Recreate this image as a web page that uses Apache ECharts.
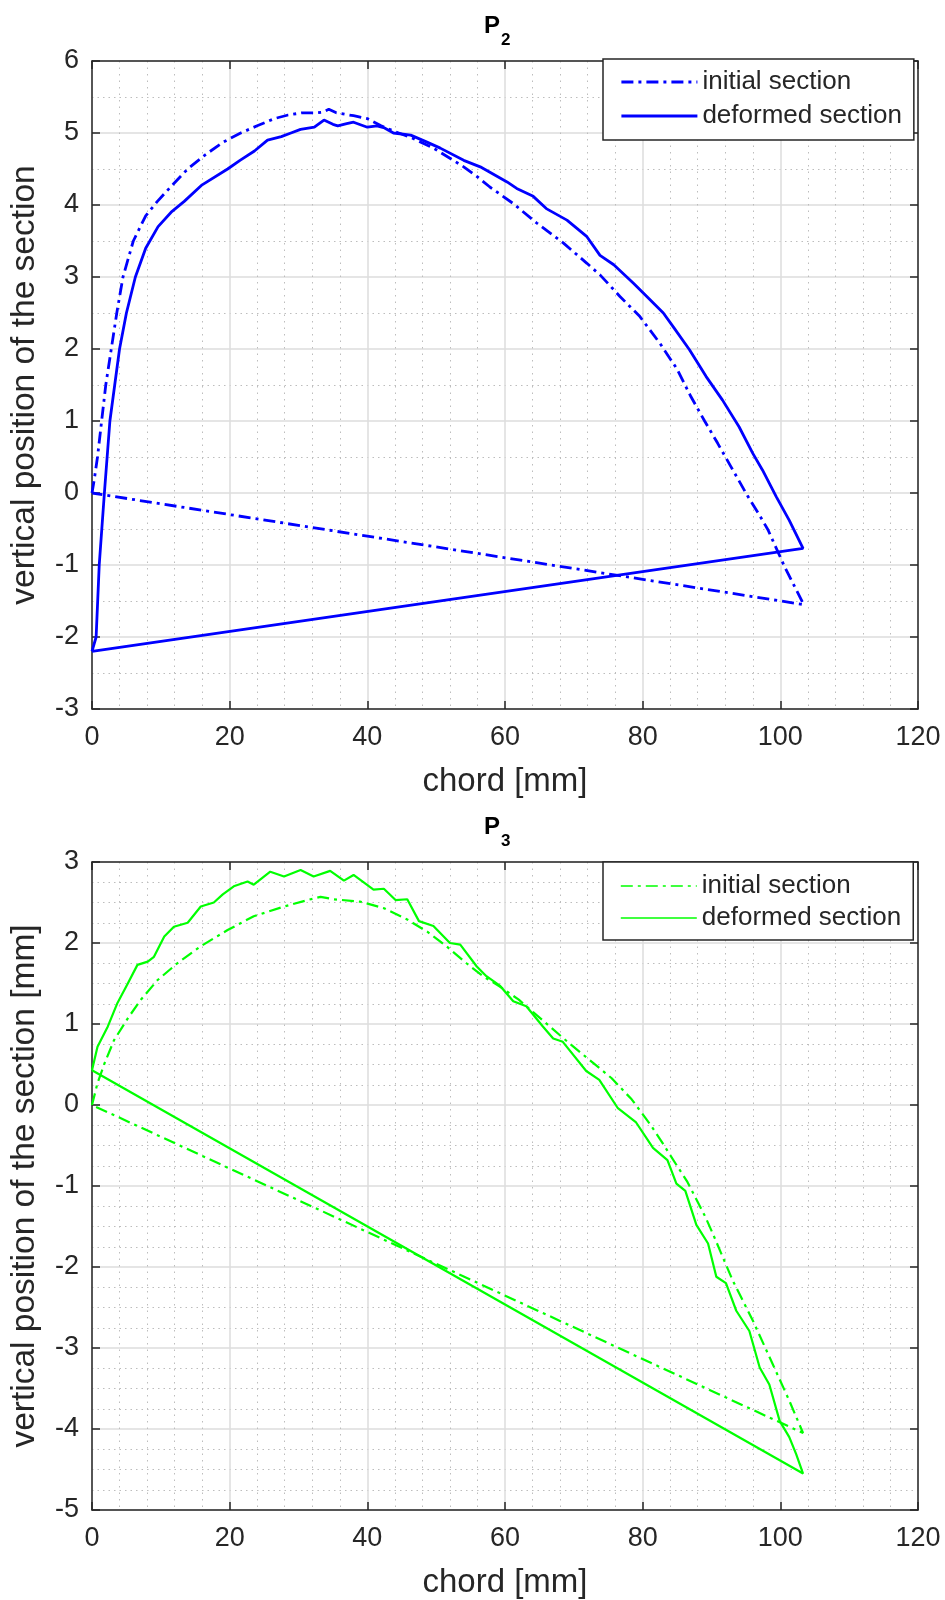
<!DOCTYPE html>
<html>
<head>
<meta charset="utf-8">
<script src="https://cdn.jsdelivr.net/npm/echarts@6/dist/echarts.min.js"></script>
<style>
  html, body { margin: 0; padding: 0; background: #fff; }
  #chart { width: 945px; height: 1600px; }
</style>
</head>
<body>
<div id="chart"></div>
<script>
// ---- section outlines (chord position [mm], vertical position) ----
// Each outline runs over the upper surface from the leading edge to the
// trailing edge and closes with a straight chord line back to the start.

const p2InitialX = [0, 0.35, 0.8, 1.4, 2.0, 2.8, 3.6, 4.5, 6.0, 7.8, 9.5, 11.6, 13.9, 16.5, 19.0, 21.6, 24.0, 26.5, 28.5, 30.5, 32.5, 33.5, 34.4, 35.5, 38.0, 40.0, 42.0, 44.0, 46.5, 49.6, 52.0, 54.0, 56.0, 57.8, 61.2, 64.6, 68.5, 71.9, 73.8, 76.7, 79.6, 82.5, 85.0, 87.0, 89.0, 90.9, 92.8, 95.3, 96.8, 98.2, 100.6, 103.4, 0];
const p2InitialY = [0, 0.2, 0.5, 1.0, 1.5, 2.0, 2.5, 3.0, 3.5, 3.85, 4.05, 4.27, 4.5, 4.7, 4.87, 5.0, 5.1, 5.2, 5.25, 5.28, 5.28, 5.29, 5.33, 5.28, 5.24, 5.2, 5.1, 5.02, 4.93, 4.79, 4.65, 4.53, 4.39, 4.25, 4.02, 3.75, 3.47, 3.19, 3.03, 2.73, 2.45, 2.08, 1.72, 1.34, 1.0, 0.69, 0.37, -0.05, -0.28, -0.51, -1.02, -1.55, 0];

const p2DeformedX = [0, 0.6, 1.05, 1.8, 2.6, 3.3, 4.0, 5.0, 6.3, 7.8, 9.6, 11.5, 13.4, 16.0, 19.7, 21.5, 23.6, 25.5, 27.5, 28.9, 30.3, 32.3, 33.7, 35.0, 35.7, 37.0, 38.0, 40.0, 41.4, 42.5, 43.8, 46.3, 48.5, 50.6, 54.0, 56.4, 60.3, 61.7, 64.1, 66.0, 69.0, 71.9, 73.8, 75.8, 78.7, 80.6, 83.0, 84.5, 86.8, 89.2, 91.6, 94.0, 96.0, 97.4, 99.4, 101.3, 103.3, 0];
const p2DeformedY = [-2.2, -2.0, -1.0, 0.0, 1.0, 1.5, 2.0, 2.5, 3.0, 3.4, 3.7, 3.9, 4.05, 4.28, 4.5, 4.62, 4.75, 4.9, 4.95, 5.0, 5.05, 5.08, 5.18, 5.12, 5.1, 5.13, 5.15, 5.08, 5.1, 5.07, 5.0, 4.97, 4.88, 4.79, 4.62, 4.53, 4.32, 4.23, 4.12, 3.95, 3.79, 3.56, 3.3, 3.17, 2.91, 2.73, 2.5, 2.3, 1.99, 1.62, 1.29, 0.92, 0.55, 0.32, -0.05, -0.38, -0.77, -2.2];

const p3InitialX = [0, 0.8, 1.8, 3.2, 5.2, 7.1, 9.5, 12.4, 15.8, 19.7, 23.5, 27.9, 31.3, 33.2, 35.1, 39.0, 42.4, 45.8, 48.7, 51.5, 54.4, 56.8, 59.3, 62.0, 66.5, 69.5, 72.8, 75.5, 78.4, 81.1, 82.9, 84.0, 86.5, 89.1, 90.2, 93.1, 96.0, 98.9, 101.3, 103.3, 0];
const p3InitialY = [0, 0.27, 0.51, 0.8, 1.07, 1.3, 1.54, 1.75, 1.96, 2.16, 2.33, 2.45, 2.53, 2.57, 2.54, 2.51, 2.43, 2.29, 2.14, 1.96, 1.75, 1.59, 1.46, 1.3, 0.97, 0.75, 0.52, 0.33, 0.07, -0.24, -0.47, -0.62, -0.95, -1.38, -1.59, -2.17, -2.66, -3.2, -3.65, -4.05, 0];

const p3DeformedX = [0, 0.8, 2.3, 3.7, 5.2, 6.6, 8.1, 9.0, 10.5, 11.9, 13.9, 15.8, 17.7, 19.0, 20.6, 22.6, 23.5, 25.9, 27.9, 30.3, 32.2, 34.6, 36.6, 38.0, 40.9, 42.4, 44.1, 45.8, 47.5, 49.6, 52.0, 53.5, 55.9, 57.3, 59.3, 61.2, 63.1, 65.5, 67.0, 68.4, 71.8, 73.7, 76.4, 79.0, 81.5, 83.6, 84.9, 86.2, 87.8, 89.5, 90.7, 92.1, 93.6, 95.5, 97.0, 98.4, 99.9, 101.3, 102.3, 103.3, 0];
const p3DeformedY = [0.43, 0.72, 0.97, 1.26, 1.5, 1.73, 1.77, 1.83, 2.08, 2.2, 2.25, 2.45, 2.5, 2.6, 2.7, 2.76, 2.72, 2.88, 2.82, 2.9, 2.82, 2.89, 2.77, 2.84, 2.66, 2.67, 2.53, 2.54, 2.27, 2.21, 2.0, 1.98, 1.71, 1.59, 1.47, 1.28, 1.22, 0.97, 0.82, 0.78, 0.42, 0.31, -0.04, -0.21, -0.53, -0.68, -0.97, -1.06, -1.48, -1.71, -2.12, -2.2, -2.54, -2.79, -3.24, -3.45, -3.9, -4.1, -4.31, -4.55, 0.43];

// ---- labels ----
const panelTitles = ['2', '3'];           // subscripts of "P"
const legendLabels = ['initial section', 'deformed section'];
const xAxisTitle = 'chord [mm]';
const yAxisTitles = ['vertical position of the section', 'vertical position of the section [mm]'];
const yRanges = [[-3, 6], [-5, 3]];
const yMinorSplits = [2, 4];

const FONT = '"Liberation Sans", Arial, Helvetica, sans-serif';
const AXIS_COLOR = '#262626';
const BLUE = '#0000ff';
const GREEN = '#00ff00';

const pairs = (xs, ys) => xs.map((x, i) => [x, ys[i]]);

const gridTops = [61, 862];
const grids = gridTops.map(t => ({
  left: 91, top: t, width: 827, height: 648,
  show: true, backgroundColor: '#fff', borderWidth: 0
}));

function mainX(g) {
  return {
    type: 'value', gridIndex: g, position: 'bottom', min: 0, max: 120, interval: 20,
    name: xAxisTitle, nameLocation: 'middle', nameGap: 56,
    nameTextStyle: { fontSize: 33, color: AXIS_COLOR, fontFamily: FONT },
    axisLine: { show: true, onZero: false, lineStyle: { color: AXIS_COLOR, width: 1.5 } },
    axisTick: { show: true, inside: true, length: 8, lineStyle: { color: AXIS_COLOR, width: 1.5 } },
    axisLabel: { show: true, margin: 15, fontSize: 27, color: AXIS_COLOR, fontFamily: FONT },
    splitLine: { show: true, lineStyle: { color: '#dcdcdc', width: 1.5 } },
    minorTick: { show: false, splitNumber: 5 },
    minorSplitLine: { show: true, lineStyle: { color: '#bdbdbd', width: 1, type: [1.5, 5] } }
  };
}
function boxX(g) {
  return {
    type: 'value', gridIndex: g, position: 'top', min: 0, max: 120, interval: 20,
    axisLine: { show: true, onZero: false, lineStyle: { color: AXIS_COLOR, width: 1.5 } },
    axisTick: { show: true, inside: true, length: 8, lineStyle: { color: AXIS_COLOR, width: 1.5 } },
    axisLabel: { show: false }, splitLine: { show: false }
  };
}
function mainY(g) {
  return {
    type: 'value', gridIndex: g, position: 'left', min: yRanges[g][0], max: yRanges[g][1], interval: 1,
    name: yAxisTitles[g], nameLocation: 'middle', nameGap: 50,
    nameTextStyle: { fontSize: 33.5, color: AXIS_COLOR, fontFamily: FONT },
    axisLine: { show: true, onZero: false, lineStyle: { color: AXIS_COLOR, width: 1.5 } },
    axisTick: { show: true, inside: true, length: 8, lineStyle: { color: AXIS_COLOR, width: 1.5 } },
    axisLabel: { show: true, margin: 13, fontSize: 27, color: AXIS_COLOR, fontFamily: FONT },
    splitLine: { show: true, lineStyle: { color: '#dcdcdc', width: 1.5 } },
    minorTick: { show: false, splitNumber: yMinorSplits[g] },
    minorSplitLine: { show: true, lineStyle: { color: '#bdbdbd', width: 1, type: [1.5, 4] } }
  };
}
function boxY(g) {
  return {
    type: 'value', gridIndex: g, position: 'right', min: yRanges[g][0], max: yRanges[g][1], interval: 1,
    axisLine: { show: true, onZero: false, lineStyle: { color: AXIS_COLOR, width: 1.5 } },
    axisTick: { show: true, inside: true, length: 8, lineStyle: { color: AXIS_COLOR, width: 1.5 } },
    axisLabel: { show: false }, splitLine: { show: false }
  };
}

function outline(name, axis, data, color, width, dashed) {
  return {
    name: name, type: 'line', xAxisIndex: axis, yAxisIndex: axis,
    data: data, symbol: 'none', showSymbol: false, smooth: false, animation: false,
    z: 5,
    lineStyle: { color: color, width: width, type: dashed ? [12, 5, 3, 5] : 'solid', cap: 'butt' },
    itemStyle: { color: color }
  };
}

const legendText = {
  p2i: legendLabels[0], p2d: legendLabels[1],
  p3i: legendLabels[0], p3d: legendLabels[1]
};

function legendBox(top, keys, pad, gap, lineW) {
  return {
    left: 603, top: top, orient: 'vertical', selectedMode: false,
    data: keys, formatter: n => legendText[n],
    itemWidth: 76, itemHeight: 14, itemGap: gap, padding: pad,
    backgroundColor: '#fff', borderColor: AXIS_COLOR, borderWidth: 1.5, borderRadius: 0,
    itemStyle: { opacity: 0 },
    lineStyle: { width: lineW, type: 'inherit', color: 'inherit', opacity: 1 },
    textStyle: { fontSize: 26, color: AXIS_COLOR, fontFamily: FONT, lineHeight: 30 }
  };
}

function titleText(g) {
  const base = gridTops[g] - 47;
  return [
    { type: 'text', left: 484, top: base, z: 10,
      style: { text: 'P', font: 'bold 24px ' + FONT, fill: '#000' } },
    { type: 'text', left: 501, top: base + 18, z: 10,
      style: { text: panelTitles[g], font: 'bold 17px ' + FONT, fill: '#000' } }
  ];
}

const chart = echarts.init(document.getElementById('chart'), null, { renderer: 'canvas' });
chart.setOption({
  animation: false,
  backgroundColor: '#fff',
  grid: grids,
  xAxis: [mainX(0), boxX(0), mainX(1), boxX(1)],
  yAxis: [mainY(0), boxY(0), mainY(1), boxY(1)],
  legend: [
    legendBox(59, ['p2i', 'p2d'], [8, 12, 9, 17], 4, 2.8),
    legendBox(862, ['p3i', 'p3d'], [9, 12, 7, 17], 2, 1.6)
  ],
  graphic: titleText(0).concat(titleText(1)),
  series: [
    outline('p2i', 0, pairs(p2InitialX, p2InitialY), BLUE, 2.8, true),
    outline('p2d', 0, pairs(p2DeformedX, p2DeformedY), BLUE, 2.8, false),
    outline('p3i', 2, pairs(p3InitialX, p3InitialY), GREEN, 2.2, true),
    outline('p3d', 2, pairs(p3DeformedX, p3DeformedY), GREEN, 2.2, false)
  ]
});
</script>
</body>
</html>
